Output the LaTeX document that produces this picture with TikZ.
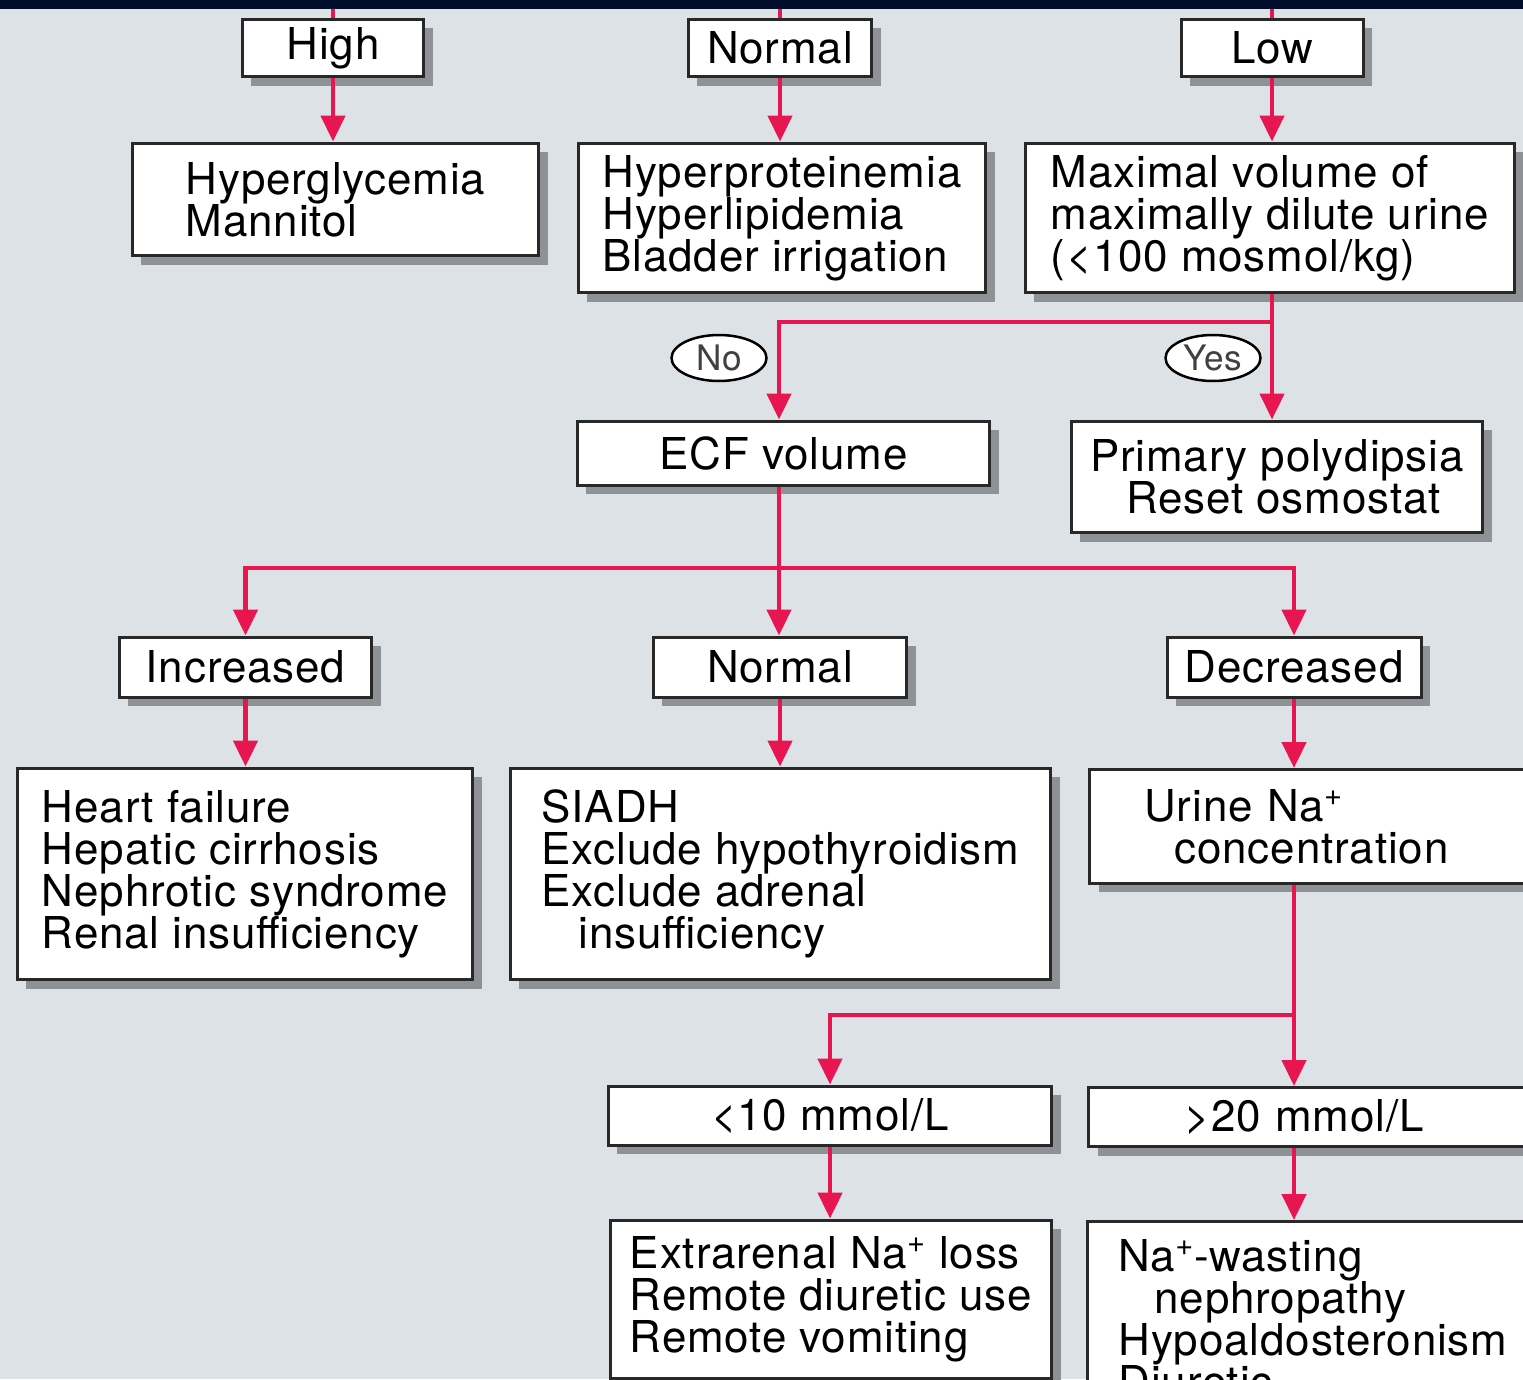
\documentclass[tikz,border=0pt]{standalone}
\usepackage{fontspec}
\setmainfont[LetterSpace=2]{TeX Gyre Heros}
\usetikzlibrary{positioning,shadows,arrows.meta,shapes.geometric}

\definecolor{bgcol}{RGB}{221,226,231}
\definecolor{bandcol}{RGB}{1,14,43}
\definecolor{arrowred}{RGB}{232,22,80}
\definecolor{boxline}{RGB}{40,40,40}
\definecolor{shadowgrey}{RGB}{142,145,150}

\begin{document}
\begin{tikzpicture}[
		x=0.02cm, y=-0.02cm,
		box/.style={rectangle, draw=boxline, line width=0.06cm, fill=white, text=black,
			align=left, inner sep=0pt, font=\fontsize{25pt}{23.9pt}\selectfont,
			drop shadow={shadow xshift=0.18cm, shadow yshift=-0.18cm, fill=shadowgrey, opacity=1}},
		choice/.style={ellipse, draw=black, line width=0.05cm, fill=white, inner sep=0pt,
			minimum width=1.9cm, minimum height=0.92cm, text=black!75, font=\fontsize{20pt}{20pt}\selectfont},
		flow/.style={draw=arrowred, line width=0.09cm, -{Triangle[length=0.52cm, width=0.48cm]}},
		link/.style={draw=arrowred, line width=0.09cm}
]

\useasboundingbox (0,0) rectangle (1523,1379);
\clip (0,0) rectangle (1523,1379);
\fill [bgcol] (0,0) rectangle (1523,1379);
\fill [bandcol] (0,0) rectangle (1523,9);
\coordinate (band) at (0,9);

\node [box, minimum width=3.64cm, minimum height=1.16cm] (high) at (333,48) {High};
\node [box, minimum width=3.68cm, minimum height=1.16cm] (normA) at (780,48) {Normal};
\node [box, minimum width=3.64cm, minimum height=1.16cm] (low) at (1272,48) {Low};

\node [box, minimum width=8.14cm, minimum height=2.26cm] (hyper) at (335.5,199.5)
	{Hyperglycemia\\Mannitol};
\node [box, minimum width=8.16cm, minimum height=3.00cm] (prot) at (782,218)
	{Hyperproteinemia\\Hyperlipidemia\\Bladder irrigation};
\node [box, minimum width=9.80cm, minimum height=3.00cm] (maxi) at (1270,218)
	{Maximal volume of\\maximally dilute urine\\(<100 mosmol/kg)};

\node [box, minimum width=8.26cm, minimum height=1.28cm] (ecf) at (783.5,453) {ECF volume};
\node [box, minimum width=8.24cm, minimum height=2.24cm] (poly) at (1277,477)
	{Primary polydipsia\\\hspace*{0.72cm}Reset osmostat};

\node [box, minimum width=5.06cm, minimum height=1.20cm] (incr) at (245.5,667) {Increased};
\node [box, minimum width=5.08cm, minimum height=1.20cm] (normB) at (780,667) {Normal};
\node [box, minimum width=5.08cm, minimum height=1.20cm] (decr) at (1294,667) {Decreased};

\node [box, minimum width=9.12cm, minimum height=4.24cm] (heart) at (245,874)
	{Heart failure\\Hepatic cirrhosis\\Nephrotic syndrome\\Renal insufficiency};
\node [box, minimum width=10.82cm, minimum height=4.24cm] (siadh) at (780.5,874)
	{SIADH\\Exclude hypothyroidism\\Exclude adrenal\\\hspace*{0.74cm}insufficiency};
\node [box, anchor=north west, inner xsep=1.1cm, text width=7.4cm, minimum height=2.28cm] (urine) at (1088,768)
	{Urine Na\textsuperscript{+}\\\hspace*{0.6cm}concentration};

\node [box, minimum width=8.88cm, minimum height=1.18cm] (lowten) at (830,1115.5) {<10 mmol/L};
\node [box, anchor=north west, inner xsep=1.92cm, text width=6cm, minimum height=1.18cm] (hightwenty) at (1087,1086)
	{>20 mmol/L};

\node [box, minimum width=8.84cm, minimum height=3.16cm] (extra) at (831,1299)
	{Extrarenal Na\textsuperscript{+} loss\\Remote diuretic use\\Remote vomiting};
\node [box, anchor=north west, inner xsep=0.62cm, text width=9cm, minimum height=3.9cm] (wast) at (1086,1220)
	{Na\textsuperscript{+}-wasting\\\hspace*{0.72cm}nephropathy\\Hypoaldosteronism\\Diuretic};

\coordinate (s1) at (1272,322);
\coordinate (s2) at (779,568);
\coordinate (s3) at (1294,1015);

\foreach \n in {high,normA,low}
	\draw [link] (\n.north) -- (\n.north |- band);

\draw [flow] (high.south) -- (high.south |- hyper.north);
\draw [flow] (normA.south) -- (normA.south |- prot.north);
\draw [flow] (low.south) -- (low.south |- maxi.north);

\draw [flow] (maxi.south -| s1) -- (s1 |- poly.north);
\draw [flow] (s1) -| (s2 |- ecf.north);

\draw [link] (ecf.south -| s2) -- (s2);
\draw [flow] (s2) -- (s2 |- normB.north);
\draw [flow] (s2) -| (incr.north);
\draw [flow] (s2) -| (decr.north);

\draw [flow] (incr.south) -- (incr.south |- heart.north);
\draw [flow] (normB.south) -- (normB.south |- siadh.north);
\draw [flow] (decr.south) -- (decr.south |- urine.north);

\draw [flow] (urine.south -| s3) -- (s3 |- hightwenty.north);
\draw [flow] (s3) -| (lowten.north);

\draw [flow] (lowten.south) -- (lowten.south |- extra.north);
\draw [flow] (hightwenty.south -| s3) -- (s3 |- wast.north);

\node [choice] (no) at (719,358) {No};
\node [choice] (yes) at (1213,358) {Yes};

\end{tikzpicture}
\end{document}
